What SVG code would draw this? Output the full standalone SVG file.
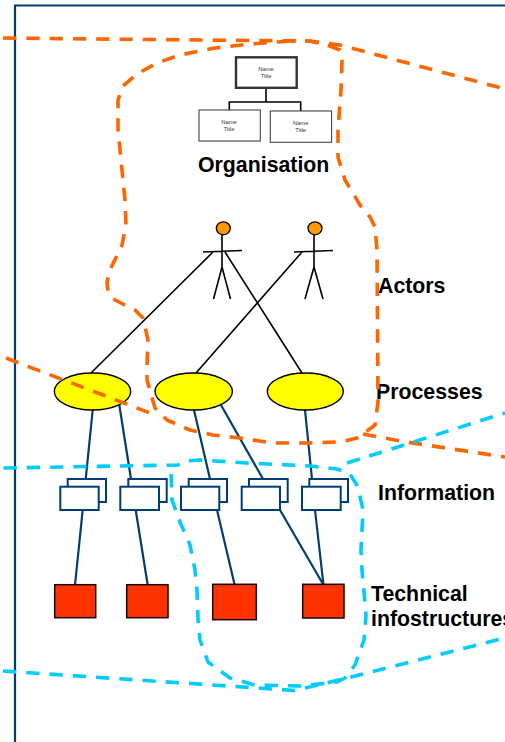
<svg xmlns="http://www.w3.org/2000/svg" width="505" height="742" viewBox="0 0 505 742">
<style>
text{font-family:"Liberation Sans",Arial,sans-serif}
.lab{font-size:21.3px;font-weight:700;fill:#000}
.tiny{font-size:5.8px;fill:#333;text-anchor:middle}
.org{fill:none;stroke:#ff6600;stroke-width:3.6;stroke-dasharray:13.300 10;stroke-linejoin:round}
.cy{fill:none;stroke:#00ccff;stroke-width:3.6;stroke-dasharray:13.300 10;stroke-linejoin:round}
.blk{fill:none;stroke:#000;stroke-width:1.6}
.nv{fill:none;stroke:#003d73;stroke-width:2.2}
.el{fill:#ffff00;stroke:#000;stroke-width:1.4}
.box{fill:#fff;stroke:#003d73;stroke-width:2}
.red{fill:#ff3300;stroke:#1a0500;stroke-width:1.5}
.head{fill:#ff9900;stroke:#000;stroke-width:1.3}
.orgbox{fill:#fff;stroke:#444;stroke-width:1.1}
</style>
<path id="frame" d="M505 5.500H15V742" fill="none" stroke="#003d73" stroke-width="2.200"/>
<g id="connectors">
<path class="blk" d="M213 252L91 373M225 252L302 373M302 252L196 373"/>
<path class="nv" d="M92.700 410L85.700 479M119.300 405L131 479M194 410L210 479M221 405L263 479M305 410L312 479"/>
<path class="nv" d="M82.700 510L75 585M135.700 510L147.700 585M217 510L234.700 585M280 510L323.500 585M315 510L323.500 585"/>
<path class="blk" d="M266 88V102M229.300 110V102H300.700V111"/>
</g>
<g id="organisation">
<rect x="236" y="57.300" width="60.700" height="30.500" fill="#fff" stroke="#333" stroke-width="2.400"/>
<text class="tiny" x="266" y="71">Name</text><text class="tiny" x="266" y="78">Title</text>
<rect class="orgbox" x="199" y="110" width="61.300" height="31"/>
<text class="tiny" x="229" y="124">Name</text><text class="tiny" x="229" y="131">Title</text>
<rect class="orgbox" x="270.300" y="111" width="61.300" height="31.300"/>
<text class="tiny" x="300.700" y="125">Name</text><text class="tiny" x="300.700" y="132">Title</text>
<text class="lab" x="198" y="171.500">Organisation</text>
</g>
<g id="actor1">
<ellipse class="head" cx="223.300" cy="228.300" rx="7" ry="6.500"/>
<path class="blk" d="M222 235V267M203 252L242 250.500M222 267L213.500 299M222 267L230.500 299"/>
</g>
<g id="actor2">
<ellipse class="head" cx="315" cy="228.300" rx="7" ry="6.500"/>
<path class="blk" d="M314 235V267M294 252L333 250.500M314 267L305 299M314 267L323 299"/>
</g>
<g id="process1"><ellipse class="el" cx="92.500" cy="391.500" rx="38.200" ry="18.500"/></g>
<g id="process2"><ellipse class="el" cx="193.700" cy="391.500" rx="38.700" ry="18.500"/></g>
<g id="process3"><ellipse class="el" cx="305.300" cy="391.500" rx="38" ry="18.500"/></g>
<g id="info1"><rect class="box" x="67.700" y="479" width="38.300" height="23"/><rect class="box" x="60.300" y="486.700" width="38.400" height="23.300"/></g>
<g id="info2"><rect class="box" x="128.300" y="479" width="38.400" height="23"/><rect class="box" x="120.300" y="486.700" width="38.700" height="23.300"/></g>
<g id="info3"><rect class="box" x="188.700" y="479" width="38.300" height="23"/><rect class="box" x="181" y="486.700" width="38.300" height="23.300"/></g>
<g id="info4"><rect class="box" x="249" y="479" width="38.700" height="23"/><rect class="box" x="241.700" y="486.700" width="38.300" height="23.300"/></g>
<g id="info5"><rect class="box" x="309.300" y="479" width="38.700" height="23"/><rect class="box" x="302" y="486.700" width="38.700" height="23.300"/></g>
<g id="tech1"><rect class="red" x="54.700" y="584.700" width="41" height="33"/></g>
<g id="tech2"><rect class="red" x="126.700" y="584.700" width="41.300" height="33"/></g>
<g id="tech3"><rect class="red" x="212.700" y="584.300" width="43.600" height="35.400"/></g>
<g id="tech4"><rect class="red" x="302.700" y="584.300" width="41.300" height="33.700"/></g>
<g id="labels">
<text class="lab" x="378" y="292.500">Actors</text>
<text class="lab" x="376" y="398.500">Processes</text>
<text class="lab" x="378" y="499.500">Information</text>
<text class="lab" x="371" y="600.500">Technical</text>
<text class="lab" x="371" y="626">infostructures</text>
</g>
<g id="regions">
<path class="org" d="M3 38L150 39.500L310 41L340 45L505 89"/>
<path class="org" d="M290 41L250 44L215 48L180 55L157 63L137 74L123 86L118 100L118 130L122 170L125 200L126 225L122 245L110 270L107 282L108 292L115 300L135 310L143 318L148 340L147 365L147 380L155 408L167 420L190 430L213 435L240 438L273 443L307 443L340 442L357 438L363 434L375 425L378 402L377 250L375 227L370 217L360 205L345 180L338 157L338 130L341 90L342 60L340 50L330 46L310 41L290 41"/>
<path class="org" d="M6 358L150 413"/>
<path class="org" d="M363 434L400 441L505 457"/>
<path class="cy" d="M3.500 468L178 465L186 461L200 460L247 463L310 466L337 469L350 474L358 487L363 510L361 550L362 570L366 615L364 640L355 665L345 678L337 682L300 686L255 685L230 678L208 662L200 640L198 620L197 590L195 570L190 545L180 522L172 500L171 472"/>
<path class="cy" d="M3 671L295 690.500L347 678L505 638"/>
<path class="cy" d="M347 463L505 413"/>
</g>
</svg>
